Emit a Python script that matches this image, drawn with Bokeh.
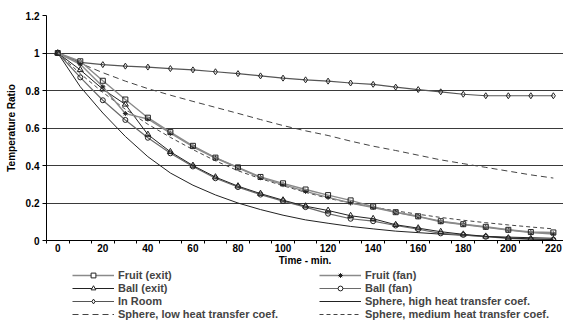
from bokeh.plotting import figure
from bokeh.layouts import column
from bokeh.models import (FixedTicker, NumeralTickFormatter, Legend, LegendItem,
                          Range1d)
from bokeh.embed import file_html
from bokeh.resources import INLINE

# ---- data ----
time_min = [0, 10, 20, 30, 40, 50, 60, 70, 80, 90, 100, 110, 120, 130, 140,
            150, 160, 170, 180, 190, 200, 210, 220]
fruit_exit = [1.0, 0.956, 0.852, 0.752, 0.655, 0.578, 0.505, 0.442, 0.39, 0.339,
              0.305, 0.272, 0.242, 0.214, 0.181, 0.151, 0.129, 0.103, 0.087,
              0.073, 0.057, 0.045, 0.043]
fruit_fan = [1.0, 0.94, 0.82, 0.677, 0.648, 0.572, 0.5, 0.44, 0.388, 0.335,
             0.298, 0.262, 0.23, 0.2, 0.176, 0.15, 0.127, 0.1, 0.085, 0.07,
             0.056, 0.042, 0.035]
ball_exit = [1.0, 0.91, 0.807, 0.726, 0.565, 0.473, 0.4, 0.338, 0.29, 0.25,
             0.215, 0.183, 0.16, 0.132, 0.116, 0.084, 0.066, 0.047, 0.033,
             0.022, 0.013, 0.009, 0.005]
ball_fan = [1.0, 0.87, 0.748, 0.643, 0.548, 0.465, 0.395, 0.332, 0.285, 0.245,
            0.21, 0.178, 0.143, 0.116, 0.103, 0.08, 0.06, 0.038, 0.03, 0.02,
            0.011, 0.006, 0.004]
in_room = [1.0, 0.95, 0.938, 0.93, 0.925, 0.917, 0.91, 0.90, 0.89, 0.878,
           0.866, 0.857, 0.85, 0.84, 0.833, 0.818, 0.805, 0.793, 0.78, 0.772,
           0.772, 0.772, 0.772]
sphere_high = [1.0, 0.82, 0.68, 0.555, 0.447, 0.36, 0.295, 0.243, 0.2, 0.165,
               0.135, 0.11, 0.092, 0.075, 0.062, 0.05, 0.042, 0.034, 0.028,
               0.022, 0.018, 0.015, 0.012]
sphere_low = [1.0, 0.945, 0.895, 0.85, 0.81, 0.775, 0.742, 0.71, 0.678, 0.645,
              0.613, 0.585, 0.56, 0.53, 0.503, 0.48, 0.455, 0.43, 0.41, 0.39,
              0.37, 0.35, 0.333]
sphere_medium = [1.0, 0.89, 0.79, 0.70, 0.62, 0.55, 0.485, 0.425, 0.372, 0.33,
                 0.292, 0.257, 0.225, 0.2, 0.178, 0.158, 0.14, 0.123, 0.108,
                 0.095, 0.083, 0.072, 0.062]

x_labels = [0, 20, 40, 60, 80, 100, 120, 140, 160, 180, 200, 220]
y_ticks = [0, 0.2, 0.4, 0.6, 0.8, 1.0, 1.2]

FONT = "Liberation Sans"
FS = "10px"
W = 563

p = figure(width=W, height=268, output_backend="svg", toolbar_location=None,
           x_range=Range1d(-5, 224.5), y_range=Range1d(0, 1.2),
           min_border_left=46, min_border_right=0, min_border_top=15,
           min_border_bottom=20)
p.outline_line_color = None
p.background_fill_color = "white"
p.xgrid.grid_line_color = None
p.ygrid.grid_line_color = "#3a3a3a"
p.ygrid.grid_line_width = 1
p.ygrid.ticker = FixedTicker(ticks=y_ticks)

# axes
p.xaxis.ticker = FixedTicker(ticks=x_labels,
                             minor_ticks=[v - 5 for v in time_min] + [225])
p.xaxis.major_tick_line_color = None
p.xaxis.major_tick_in = 0
p.xaxis.major_tick_out = 0
p.xaxis.minor_tick_in = 0
p.xaxis.minor_tick_out = 3
p.xaxis.minor_tick_line_color = "black"
p.xaxis.axis_line_color = "black"
p.xaxis.major_label_standoff = 0
p.xaxis.axis_label = "Time - min."
p.xaxis.axis_label_standoff = 0
p.yaxis.ticker = FixedTicker(ticks=y_ticks)
p.yaxis.formatter = NumeralTickFormatter(format="0.[0]")
p.yaxis.major_tick_in = 0
p.yaxis.major_tick_out = 4
p.yaxis.minor_tick_line_color = None
p.yaxis.axis_line_color = "black"
p.yaxis.axis_label = "Temperature Ratio"
p.yaxis.axis_label_standoff = 6
p.yaxis.major_label_standoff = 3
for ax in (p.xaxis[0], p.yaxis[0]):
    ax.major_label_text_font = FONT
    ax.major_label_text_font_style = "bold"
    ax.major_label_text_font_size = FS
    ax.major_label_text_color = "black"
    ax.axis_label_text_font = FONT
    ax.axis_label_text_font_style = "bold"
    ax.axis_label_text_font_size = FS
    ax.axis_label_text_color = "black"

# legend-only figure below the chart (its glyphs sit outside its visible ranges)
lg = figure(width=W, height=58, output_backend="svg", toolbar_location=None,
            x_range=Range1d(1000, 1001), y_range=Range1d(1000, 1001),
            min_border=0)
lg.axis.visible = False
lg.grid.visible = False
lg.outline_line_color = None

styles = {}

def series(name, ys, color, width, marker=None, dash="solid", msize=5):
    p.line(time_min, ys, line_color=color, line_width=width, line_dash=dash)
    rs = [lg.line(time_min[:2], ys[:2], line_color=color, line_width=width,
                  line_dash=dash)]
    if marker:
        p.scatter(time_min, ys, marker=marker, size=msize,
                  line_color="#222222", fill_color=None, line_width=1)
        rs.append(lg.scatter(time_min[:1], ys[:1], marker=marker, size=msize,
                             line_color="#222222", fill_color="white",
                             line_width=1))
    styles[name] = rs

series("Sphere, high heat transfer coef.", sphere_high, "#222222", 1)
series("Sphere, low heat transfer coef.", sphere_low, "#444444", 1, dash="6 4")
series("Sphere, medium heat transfer coef.", sphere_medium, "#444444", 1, dash="4 3")
series("In Room", in_room, "#555555", 1.2, "diamond", msize=6)
series("Ball (fan)", ball_fan, "#6a6a6a", 1.2, "circle", msize=5)
series("Ball (exit)", ball_exit, "#222222", 1, "triangle", msize=6)
series("Fruit (fan)", fruit_fan, "#8a8a8a", 1.4, "asterisk", msize=5)
series("Fruit (exit)", fruit_exit, "#8a8a8a", 1.4, "square", msize=5)

# column-major order (left column first, then right column)
order = ["Fruit (exit)", "Ball (exit)", "In Room",
         "Sphere, low heat transfer coef.",
         "Fruit (fan)", "Ball (fan)", "Sphere, high heat transfer coef.",
         "Sphere, medium heat transfer coef."]
legend = Legend(items=[LegendItem(label=n, renderers=styles[n]) for n in order],
                ncols=2, orientation="vertical")
legend.label_text_font = FONT
legend.label_text_font_style = "bold"
legend.label_text_font_size = "11px"
legend.label_height = 11
legend.glyph_height = 12
legend.glyph_width = 42
legend.label_standoff = 4
legend.label_width = 200
legend.spacing = 1
legend.padding = 0
legend.margin = 0
legend.border_line_color = None
legend.background_fill_alpha = 0
legend.location = (26, 6)
lg.add_layout(legend, "center")

layout = column(p, lg, spacing=0)
open("out.html", "w").write(file_html(layout, INLINE))
